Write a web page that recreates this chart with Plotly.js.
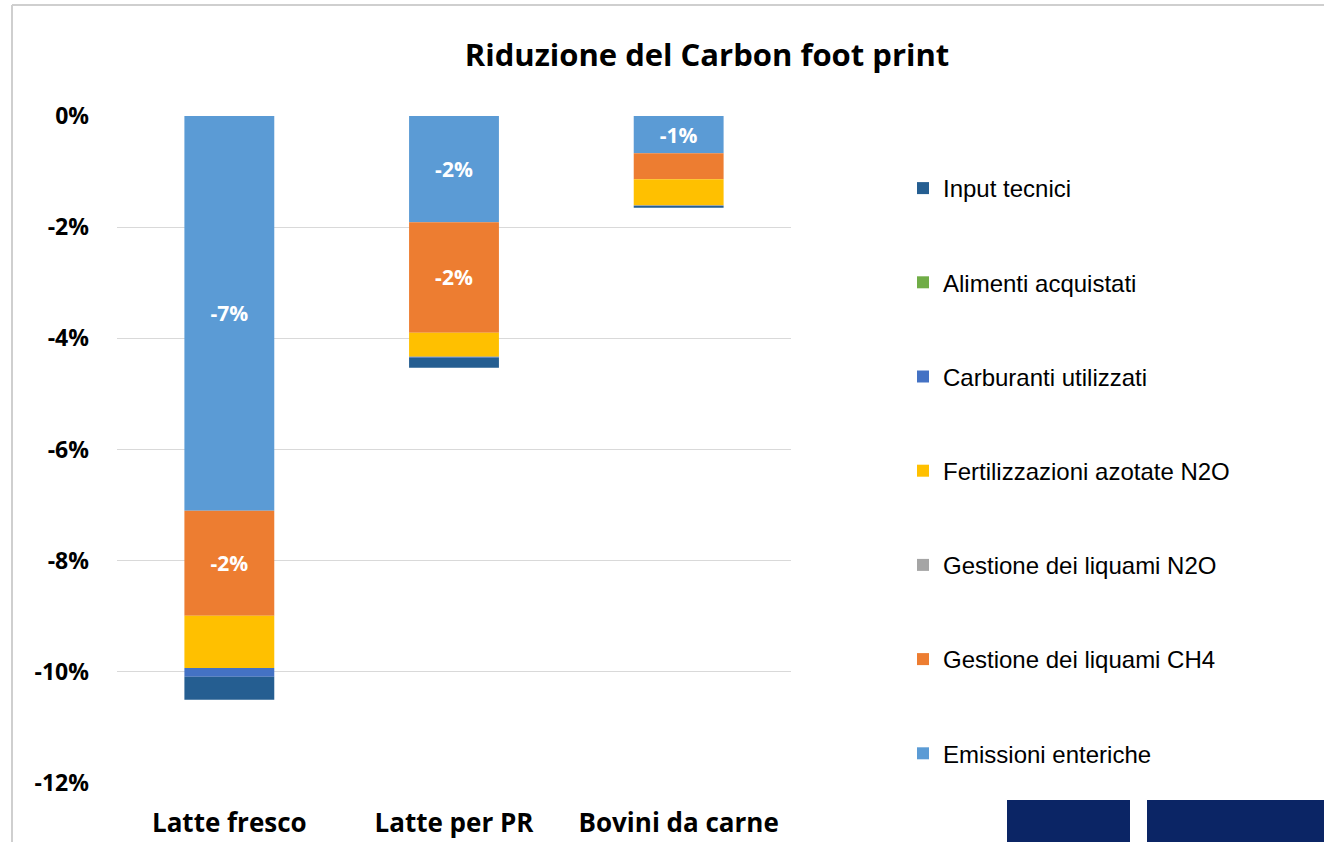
<!DOCTYPE html>
<html><head><meta charset="utf-8">
<script src="https://cdn.plot.ly/plotly-3.0.1.min.js"></script>
<style>html,body{margin:0;padding:0;background:#fff;}#chart{width:1324px;height:842px;}</style>
</head><body><div id="chart"></div>
<script>
const categories = ["Latte fresco", "Latte per PR", "Bovini da carne"];
// stacking order from zero downward
const emissioniEnteriche   = [-7.10, -1.91, -0.67];
const gestioneLiquamiCH4   = [-1.89, -1.99, -0.47];
const gestioneLiquamiN2O   = [0, 0, 0];
const fertilizzazioniN2O   = [-0.94, -0.43, -0.47];
const carburantiUtilizzati = [-0.16, -0.02, -0.01];
const alimentiAcquistati   = [0, 0, 0];
const inputTecnici         = [-0.41, -0.18, -0.03];
const tickVals = [0, -2, -4, -6, -8, -10, -12];
const tickText = ["0%", "-2%", "-4%", "-6%", "-8%", "-10%", "-12%"];
const labelShown = {
  "Emissioni enteriche": [true, true, true],
  "Gestione dei liquami CH4": [true, true, false]
};

const series = [
  {name: "Emissioni enteriche", y: emissioniEnteriche, color: "#5B9BD5"},
  {name: "Gestione dei liquami CH4", y: gestioneLiquamiCH4, color: "#ED7D31"},
  {name: "Gestione dei liquami N2O", y: gestioneLiquamiN2O, color: "#A5A5A5"},
  {name: "Fertilizzazioni azotate N2O", y: fertilizzazioniN2O, color: "#FFC000"},
  {name: "Carburanti utilizzati", y: carburantiUtilizzati, color: "#4472C4"},
  {name: "Alimenti acquistati", y: alimentiAcquistati, color: "#70AD47"},
  {name: "Input tecnici", y: inputTecnici, color: "#255E91"}
];

const traces = series.map((s, i) => {
  const show = labelShown[s.name];
  const text = show ? s.y.map((v, j) => show[j] ? ("<b>" + Math.round(v) + "%</b>") : "") : undefined;
  return {
    type: "bar", x: categories, y: s.y, name: s.name,
    marker: {color: s.color},
    legendgroup: "g" + i,
    legendrank: series.length - i,
    text: text,
    textposition: show ? "inside" : "none",
    insidetextanchor: "middle",
    textangle: 0,
    textfont: {color: "#ffffff", size: 21, family: "Open Sans, sans-serif"},
    hoverinfo: "name+y"
  };
});

const px = (p) => (p - 117) / 674;
const py = (p) => (783 - p) / 667;

const layout = {
  width: 1324, height: 842,
  margin: {l: 117, r: 533, t: 116, b: 59},
  paper_bgcolor: "#ffffff", plot_bgcolor: "#ffffff",
  barmode: "relative", bargap: 0.6,
  showlegend: true,
  title: {text: "<b>Riduzione del Carbon foot print</b>", x: 0.534, xanchor: "center", y: 0.935, yanchor: "middle",
          font: {family: "Open Sans, sans-serif", size: 31, color: "#000"}},
  xaxis: {tickfont: {family: "Open Sans, sans-serif", size: 26, color: "#000"}, showline: false, ticks: "",
          ticklabelstandoff: 22, tickprefix: "<b>", ticksuffix: "</b>"},
  yaxis: {range: [-12, 0], tickvals: tickVals, ticktext: tickText.map(t => "<b>" + t + "</b>"),
          tickfont: {family: "Open Sans, sans-serif", size: 23, color: "#000"}, ticklabelstandoff: 27,
          showgrid: true, gridcolor: "#d9d9d9", gridwidth: 1, zeroline: false, showline: false, ticks: "", ticklen: 0,
          automargin: false},
  legend: {traceorder: "grouped", tracegroupgap: 60, x: px(903), xanchor: "left", y: py(166), yanchor: "top",
           font: {family: "Liberation Sans, Arial, sans-serif", size: 24, color: "#000"}, itemwidth: 30, bgcolor: "rgba(0,0,0,0)"},
  shapes: [
    {type: "rect", xref: "paper", yref: "paper", x0: px(1007), x1: px(1130), y0: py(842), y1: py(800), fillcolor: "#0B2565", line: {width: 0}, layer: "above"},
    {type: "rect", xref: "paper", yref: "paper", x0: px(1147), x1: px(1324), y0: py(842), y1: py(800), fillcolor: "#0B2565", line: {width: 0}, layer: "above"},
    {type: "line", xref: "paper", yref: "paper", x0: px(12), x1: px(12), y0: py(842), y1: py(5), line: {color: "#cfcfcf", width: 2}},
    {type: "line", xref: "paper", yref: "paper", x0: px(12), x1: px(1324), y0: py(5), y1: py(5), line: {color: "#cfcfcf", width: 2}}
  ]
};

Plotly.newPlot("chart", traces, layout, {displayModeBar: false, staticPlot: true});
</script></body></html>
